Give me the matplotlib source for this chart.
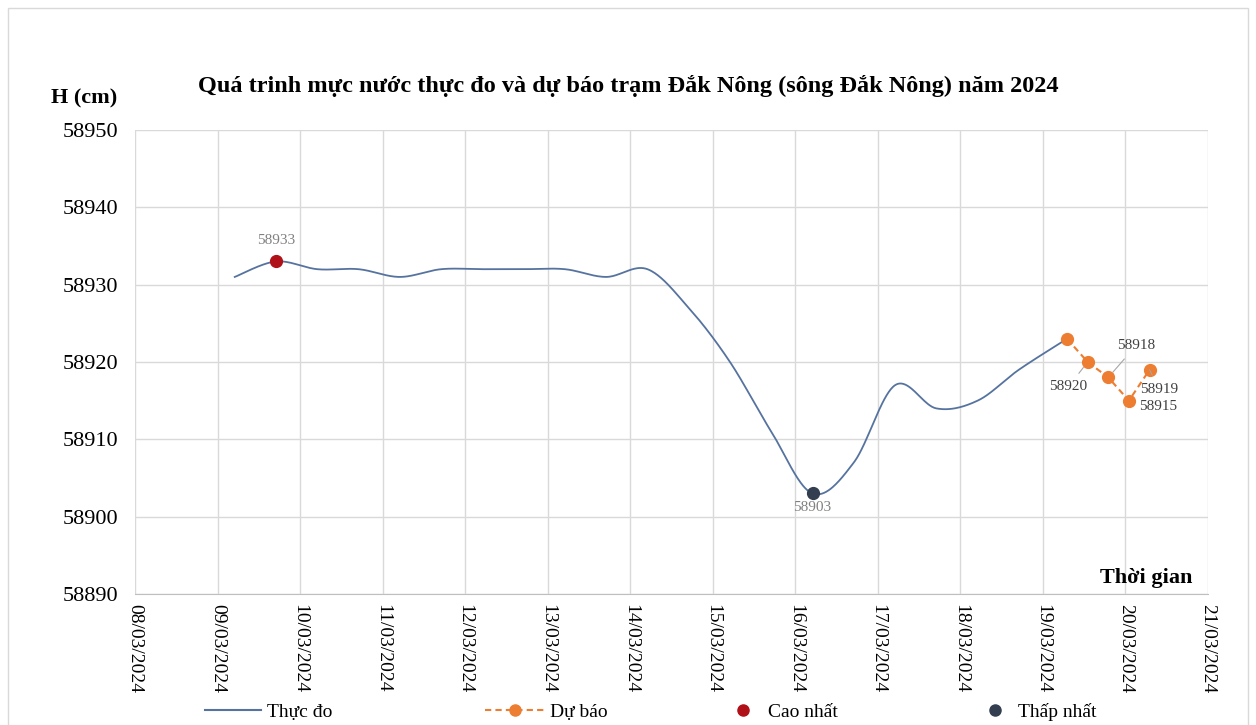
import numpy as np
import matplotlib
matplotlib.use("Agg")
import matplotlib.pyplot as plt
import matplotlib.dates as mdates
from matplotlib.lines import Line2D
from matplotlib.patches import Rectangle
import pandas as pd

# ---------------- data ----------------
obs_time = ["2024-03-09 05:00", "2024-03-09 17:00", "2024-03-10 05:00", "2024-03-10 17:00",
            "2024-03-11 05:00", "2024-03-11 17:00", "2024-03-12 05:00", "2024-03-12 17:00",
            "2024-03-13 05:00", "2024-03-13 17:00", "2024-03-14 05:00", "2024-03-14 17:00",
            "2024-03-15 05:00", "2024-03-15 17:00", "2024-03-16 05:00", "2024-03-16 17:00",
            "2024-03-17 05:00", "2024-03-17 17:00", "2024-03-18 05:00", "2024-03-18 17:00",
            "2024-03-19 07:00"]
obs_level = [58931, 58933, 58932, 58932, 58931, 58932, 58932, 58932, 58932, 58931, 58932,
             58927, 58920, 58911, 58903, 58907, 58917, 58914, 58915, 58919, 58923]

fc_time = ["2024-03-19 07:00", "2024-03-19 13:00", "2024-03-19 19:00",
           "2024-03-20 01:00", "2024-03-20 07:00"]
fc_level = [58923, 58920, 58918, 58915, 58919]

title = "Quá trinh mực nước thực đo và dự báo trạm Đắk Nông (sông Đắk Nông) năm 2024"
y_label = "H (cm)"
x_label = "Thời gian"
legend_labels = ["Thực đo", "Dự báo", "Cao nhất", "Thấp nhất"]
y_ticks = [58890, 58900, 58910, 58920, 58930, 58940, 58950]
x_start, x_end = "2024-03-08", "2024-03-21"

# ---------------- helpers ----------------
def bezier_smooth(x, y, n=40):
    P = np.column_stack([x, y]).astype(float)
    out = []
    for i in range(len(P) - 1):
        p0 = P[i - 1] if i > 0 else P[i]
        p1, p2 = P[i], P[i + 1]
        p3 = P[i + 2] if i + 2 < len(P) else P[i + 1]
        c1 = p1 + (p2 - p0) / 6.0
        c2 = p2 - (p3 - p1) / 6.0
        t = np.linspace(0, 1, n)[:, None]
        seg = (1 - t) ** 3 * p1 + 3 * (1 - t) ** 2 * t * c1 + 3 * (1 - t) * t ** 2 * c2 + t ** 3 * p2
        out.append(seg if i == 0 else seg[1:])
    return np.vstack(out)

SERIF = ["Liberation Serif", "DejaVu Serif"]
plt.rcParams["font.family"] = SERIF

obs_x = mdates.date2num(pd.to_datetime(obs_time))
fc_x = mdates.date2num(pd.to_datetime(fc_time))
obs_y = np.array(obs_level)
fc_y = np.array(fc_level)

fig = plt.figure(figsize=(12.56, 7.25), dpi=100)
ax = fig.add_axes([0.1075, 0.1807, 0.8543, 0.6400])

LINE_C = "#5673A0"
FC_C = "#ED7D31"
MAX_C = "#B01018"
MIN_C = "#333F50"
GRID_C = "#D9D9D9"

curve = bezier_smooth(obs_x, obs_y)
ax.plot(curve[:, 0], curve[:, 1], color=LINE_C, lw=1.3, zorder=3)
ax.plot(fc_x, fc_y, color=FC_C, lw=1.5, ls=(0, (3, 2)), marker="o", ms=8.5,
        markeredgecolor=FC_C, zorder=4)

imax = int(np.argmax(obs_y))
imin = int(np.argmin(obs_y))
ax.plot(obs_x[imax], obs_y[imax], "o", color=MAX_C, ms=8.5, zorder=5)
ax.plot(obs_x[imin], obs_y[imin], "o", color=MIN_C, ms=8.5, zorder=5)
ax.annotate(str(obs_y[imax]), (obs_x[imax], obs_y[imax]), xytext=(0, 15),
            textcoords="offset points", ha="center", va="center", fontsize=11, color="#808080")
ax.annotate(str(obs_y[imin]), (obs_x[imin], obs_y[imin]), xytext=(0, -10),
            textcoords="offset points", ha="center", va="center", fontsize=11, color="#808080")

# forecast labels with leader lines
fc_offsets = [None, (-14, -18), (20, 23), (21, -4), (7, -14)]
lead = dict(arrowstyle="-", color="#A6A6A6", lw=0.8, shrinkA=4, shrinkB=5)
for i in range(1, len(fc_y)):
    ox, oy = fc_offsets[i]
    ax.annotate(str(fc_y[i]), (fc_x[i], fc_y[i]), xytext=(ox, oy), textcoords="offset points",
                ha="center", va="center", fontsize=11, color="#404040",
                arrowprops=lead if i != 3 else None, zorder=6)

# axes styling
ax.set_xlim(mdates.date2num(pd.Timestamp(x_start)), mdates.date2num(pd.Timestamp(x_end)))
ax.set_ylim(y_ticks[0], y_ticks[-1])
ax.set_yticks(y_ticks)
ax.xaxis.set_major_locator(mdates.DayLocator())
ax.xaxis.set_major_formatter(mdates.DateFormatter("%d/%m/%Y"))
ax.grid(True, color=GRID_C, lw=1)
ax.set_axisbelow(True)
for s in ["top", "right", "left"]:
    ax.spines[s].set_visible(False)
ax.spines["bottom"].set_color("#BFBFBF")
ax.tick_params(axis="both", length=0, labelsize=14, colors="#000000")
ax.tick_params(axis="y", labelsize=16, pad=12)
ax.tick_params(axis="x", pad=7)
for lab in ax.get_xticklabels():
    lab.set_rotation(-90)
    lab.set_ha("center")
    lab.set_va("top")

fig.text(628 / 1256, 1 - 86 / 725, title, ha="center", va="center", fontsize=17.5,
         fontweight="bold")
fig.text(84 / 1256, 1 - 98 / 725, y_label, ha="center", va="center", fontsize=16,
         fontweight="bold")
fig.text(1192 / 1256, 1 - 578 / 725, x_label, ha="right", va="center", fontsize=16,
         fontweight="bold")

# legend entries placed individually
handles = [
    Line2D([], [], color=LINE_C, lw=1.5),
    Line2D([], [], color=FC_C, lw=1.5, ls=(0, (3, 2)), marker="o", ms=8),
    Line2D([], [], color=MAX_C, lw=0, marker="o", ms=8),
    Line2D([], [], color=MIN_C, lw=0, marker="o", ms=8),
]
leg_pos = [(205, 2.9, 0.3), (485, 3.1, 0.25), (733, 1.0, 0.8), (985, 1.0, 0.7)]
for h, lab, (px, hl, hp) in zip(handles, legend_labels, leg_pos):
    lg = fig.legend([h], [lab], loc="center left", bbox_to_anchor=(px / 1256, 1 - 712 / 725),
                    frameon=False, fontsize=14, handlelength=hl, handletextpad=hp,
                    borderpad=0, borderaxespad=0)

fig.patches.append(Rectangle((8 / 1256, -0.01), (1248 - 8) / 1256, 1.01 - 8 / 725,
                             transform=fig.transFigure, fill=False, edgecolor="#D9D9D9", lw=1))

fig.savefig("out.png", dpi=100, facecolor="white")
